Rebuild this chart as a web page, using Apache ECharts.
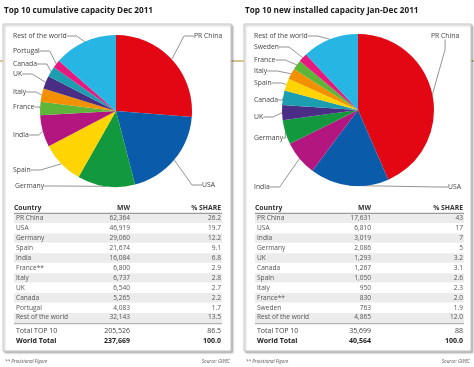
<!DOCTYPE html>
<html>
<head>
<meta charset="utf-8">
<script src="https://cdn.jsdelivr.net/npm/echarts@6/dist/echarts.min.js"></script>
<style>
html,body{margin:0;padding:0;background:#fff;}
#chart{width:474px;height:367px;}
</style>
</head>
<body>
<div id="chart"></div>
<script>
// ---------- DATA ----------
const leftTitle = 'Top 10 cumulative capacity Dec 2011';
const leftCountries = ['PR China','USA','Germany','Spain','India','France','Italy','UK','Canada','Portugal','Rest of the world'];
const leftTableNames = ['PR China','USA','Germany','Spain','India','France**','Italy','UK','Canada','Portugal','Rest of the world'];
const leftMW = [62364,46919,29060,21674,16084,6800,6737,6540,5265,4083,32143];
const leftShare = ['26.2','19.7','12.2','9.1','6.8','2.9','2.8','2.7','2.2','1.7','13.5'];
const leftTotals = [['Total TOP 10', 205526, '86.5'], ['World Total', 237669, '100.0']];

const rightTitle = 'Top 10 new installed capacity Jan-Dec 2011';
const rightCountries = ['PR China','USA','India','Germany','UK','Canada','Spain','Italy','France','Sweden','Rest of the world'];
const rightTableNames = ['PR China','USA','India','Germany','UK','Canada','Spain','Italy','France**','Sweden','Rest of the world'];
const rightMW = [17631,6810,3019,2086,1293,1267,1050,950,830,763,4865];
const rightShare = ['43','17','7','5','3.2','3.1','2.6','2.3','2.0','1.9','12.0'];
const rightTotals = [['Total TOP 10', 35699, '88'], ['World Total', 40564, '100.0']];

const tableHeader = ['Country','MW','% SHARE'];
const footNote = '** Provisional Figure';
const sourceNote = 'Source: GWEC';

// ---------- STYLE / LAYOUT ----------
const countryColor = {
  'PR China':'#e30613','USA':'#0a5cab','Germany':'#12993d','Spain':'#ffd400','India':'#b3177f',
  'France':'#5db53a','Italy':'#f29000','UK':'#4a2d84','Canada':'#1c9db0','Portugal':'#e6197f',
  'Sweden':'#e6197f','Rest of the world':'#27b5e3'
};
const FONT = '"Open Sans", "Noto Sans", sans-serif';
const leftLabelPos = {
  'PR China':[194,36],'USA':[202,185],'Germany':[15,186],'Spain':[13,170],'India':[13,135],
  'France':[13,107],'Italy':[13,92],'UK':[13,74],'Canada':[13,64],'Portugal':[13,51],'Rest of the world':[13,36]
};
const rightLabelPos = {
  'PR China':[431,36],'USA':[448,187],'India':[254,187],'Germany':[254,138],'UK':[254,117],
  'Canada':[254,100],'Spain':[254,83],'Italy':[254,71],'France':[254,60],'Sweden':[254,47],'Rest of the world':[254,36]
};
const panels = [
  {x:3, w:228, title:leftTitle, names:leftTableNames, mw:leftMW, share:leftShare, totals:leftTotals,
   colC:14, colMW:130, colS:221},
  {x:244, w:227, title:rightTitle, names:rightTableNames, mw:rightMW, share:rightShare, totals:rightTotals,
   colC:255, colMW:371, colS:463}
];

function fmt(n){ return n.toLocaleString('en-US'); }

const graphics = [];
// tan decorative line
[[0,3],[231,244],[471,474]].forEach(function(s){
  graphics.push({type:'line', shape:{x1:s[0],y1:61,x2:s[1],y2:61}, style:{stroke:'#d8c58c', lineWidth:2}, z:0});
});
panels.forEach(function(p){
  graphics.push({type:'rect', shape:{x:p.x, y:24, width:p.w, height:327},
    style:{fill:'#fff', stroke:'#c4c4c4', lineWidth:1, shadowBlur:2, shadowOffsetX:1.5, shadowOffsetY:1.5, shadowColor:'rgba(0,0,0,0.25)'}, z:1});
  graphics.push({type:'text', x:p.x+1, y:11, style:{text:p.title, font:'bold 8.2px '+FONT, fill:'#1a1a1a', verticalAlign:'middle'}, z:5});
  const y0 = 218.3, step = 9.93;
  graphics.push({type:'text', x:p.colC, y:208, style:{text:tableHeader[0], font:'bold 6.8px '+FONT, fill:'#333', verticalAlign:'middle'}, z:5});
  graphics.push({type:'text', x:p.colMW, y:208, style:{text:tableHeader[1], font:'bold 6.8px '+FONT, fill:'#333', align:'right', verticalAlign:'middle'}, z:5});
  graphics.push({type:'text', x:p.colS, y:208, style:{text:tableHeader[2], font:'bold 6.8px '+FONT, fill:'#333', align:'right', verticalAlign:'middle'}, z:5});
  graphics.push({type:'line', shape:{x1:p.colC, y1:213.3, x2:p.colS+1, y2:213.3}, style:{stroke:'#666', lineWidth:0.8}, z:5});
  p.names.forEach(function(n, i){
    const y = y0 + i*step;
    if (i % 2 === 0) {
      graphics.push({type:'rect', shape:{x:p.colC, y:y-step/2+0.3, width:p.colS+1-p.colC, height:step-0.6}, style:{fill:'#ececec'}, z:2});
    }
    graphics.push({type:'text', x:p.colC+2, y:y, style:{text:n, font:'6.6px '+FONT, fill:'#555', verticalAlign:'middle'}, z:5});
    graphics.push({type:'text', x:p.colMW, y:y, style:{text:fmt(p.mw[i]), font:'6.6px '+FONT, fill:'#555', align:'right', verticalAlign:'middle'}, z:5});
    graphics.push({type:'text', x:p.colS, y:y, style:{text:p.share[i], font:'6.6px '+FONT, fill:'#555', align:'right', verticalAlign:'middle'}, z:5});
  });
  const yl = y0 + 10*step + step/2 + 1;
  graphics.push({type:'line', shape:{x1:p.colC, y1:yl, x2:p.colS+1, y2:yl}, style:{stroke:'#b5b5b5', lineWidth:1.4}, z:5});
  p.totals.forEach(function(t, j){
    const y = 330.5 + j*10;
    const f = (j === 1 ? 'bold 7px ' : '7px ') + FONT;
    const c = j === 1 ? '#222' : '#444';
    graphics.push({type:'text', x:p.colC+2, y:y, style:{text:t[0], font:f, fill:c, verticalAlign:'middle'}, z:5});
    graphics.push({type:'text', x:p.colMW, y:y, style:{text:fmt(t[1]), font:f, fill:c, align:'right', verticalAlign:'middle'}, z:5});
    graphics.push({type:'text', x:p.colS, y:y, style:{text:t[2], font:f, fill:c, align:'right', verticalAlign:'middle'}, z:5});
  });
  graphics.push({type:'text', x:p.x+2, y:362, style:{text:footNote, font:'italic 4.6px '+FONT, fill:'#555', verticalAlign:'middle'}, z:5});
  graphics.push({type:'text', x:p.x+p.w-1, y:362, style:{text:sourceNote, font:'italic 4.6px '+FONT, fill:'#555', align:'right', verticalAlign:'middle'}, z:5});
});

function pieSeries(names, values, center, posMap){
  return {
    type:'pie', center:center, radius:[0,76], startAngle:90, clockwise:true,
    animation:false, silent:true, z:10,
    data: names.map(function(n, i){ return {name:n, value:values[i], itemStyle:{color:countryColor[n]}}; }),
    label:{show:true, position:'outside', fontFamily:FONT, fontSize:6.8, color:'#444',
      overflow:'none', width:120, bleedMargin:0},
    labelLine:{show:true, length:6, length2:10, smooth:false, lineStyle:{color:'#666', width:0.7}},
    labelLayout:function(params){
      const pos = posMap[names[params.dataIndex]];
      return {x:pos[0], y:pos[1], align:'left', verticalAlign:'middle', hideOverlap:false, moveOverlap:null};
    }
  };
}

const chart = echarts.init(document.getElementById('chart'), null, {renderer:'canvas'});
chart.setOption({
  backgroundColor:'#fff',
  animation:false,
  graphic: graphics,
  series:[
    pieSeries(leftCountries, leftMW, [116,111], leftLabelPos),
    pieSeries(rightCountries, rightMW, [358,110], rightLabelPos)
  ]
});
</script>
</body>
</html>
